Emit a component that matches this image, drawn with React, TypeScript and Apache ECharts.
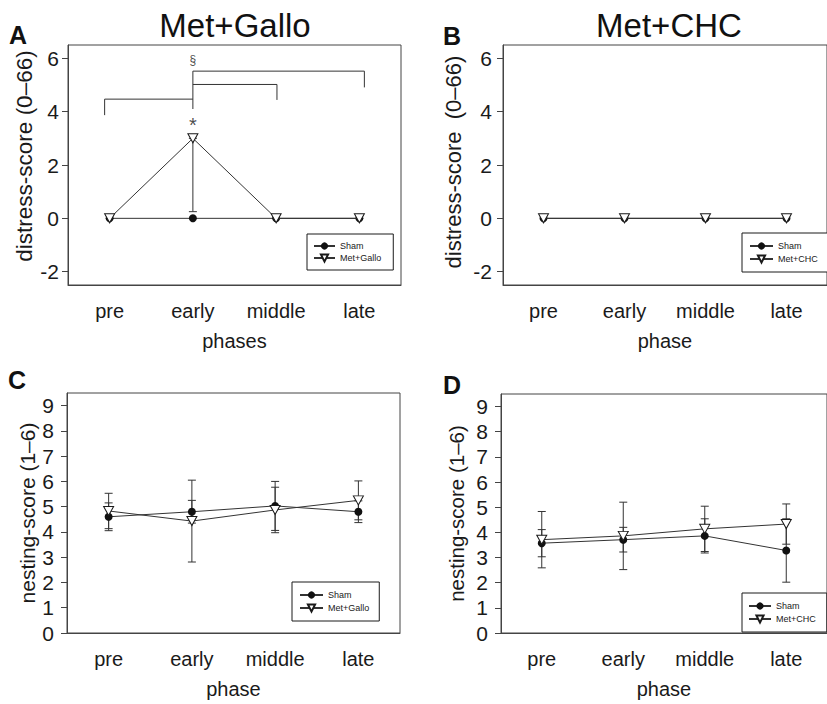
import React, { useEffect, useRef } from "react";
import * as echarts from "echarts";

const phases = ["pre", "early", "middle", "late"];

// Panel A (Met+Gallo distress)
const shamA = [0, 0, 0, 0];
const galloA = [0, 3, 0, 0];
const galloALowerSd = [0, 2.75, 0, 0];

// Panel B (Met+CHC distress)
const shamB = [0, 0, 0, 0];
const chcB = [0, 0, 0, 0];

// Panel C (Met+Gallo nesting)
const shamC = [4.6, 4.8, 5.03, 4.8];
const shamCSd = [0.55, 0.45, 0.97, 0.43];
const galloC = [4.83, 4.43, 4.87, 5.25];
const galloCSd = [0.7, 1.62, 0.9, 0.77];

// Panel D (Met+CHC nesting)
const shamD = [3.57, 3.71, 3.86, 3.28];
const shamDSd = [0.54, 0.49, 0.68, 1.26];
const chcD = [3.71, 3.86, 4.14, 4.33];
const chcDSd = [1.12, 1.34, 0.9, 0.8];

const distressTicks = [-2, 0, 2, 4, 6];
const nestingTicks = [0, 1, 2, 3, 4, 5, 6, 7, 8, 9];

// significance brackets in panel A: [x, y] on a 0..3 phase scale
const bracketPre: number[][] = [[-0.06, 3.87], [-0.06, 4.47], [1, 4.47]];
const bracketEarlyStem: number[][] = [[1, 4.1], [1, 5.52]];
const bracketMiddle: number[][] = [[1, 5.02], [2.01, 5.02], [2.01, 4.44]];
const bracketLate: number[][] = [[1, 5.52], [3.06, 5.52], [3.06, 4.91]];
const starMark = [1, 3.5];
const sectionMark = [1, 5.95];

const FONT = "'Liberation Sans', Arial, sans-serif";
const DARK = "#1a1a1a";
const LINE = "#333";

function errData(mean: number[], lo: number[], hi: number[]) {
  return mean.map((m, i) => [i, m - lo[i], m + hi[i]]);
}

function errorSeries(name: string, idx: number, data: number[][]) {
  return {
    name,
    type: "custom",
    xAxisIndex: idx,
    yAxisIndex: idx,
    z: 2,
    encode: { x: 0, y: [1, 2] },
    data,
    renderItem: (params: any, api: any) => {
      const x = api.value(0);
      const a = api.value(1);
      const b = api.value(2);
      if (a === b) return { type: "group", children: [] };
      const lo = api.coord([x, a]);
      const hi = api.coord([x, b]);
      const cw = 4;
      const st = { stroke: LINE, lineWidth: 1 };
      return {
        type: "group",
        children: [
          { type: "line", shape: { x1: lo[0], y1: lo[1], x2: hi[0], y2: hi[1] }, style: st },
          { type: "line", shape: { x1: lo[0] - cw, y1: lo[1], x2: lo[0] + cw, y2: lo[1] }, style: st },
          { type: "line", shape: { x1: hi[0] - cw, y1: hi[1], x2: hi[0] + cw, y2: hi[1] }, style: st },
        ],
      };
    },
  };
}

function shamSeries(idx: number, data: number[]) {
  return {
    name: "Sham",
    type: "line",
    xAxisIndex: idx,
    yAxisIndex: idx,
    data,
    symbol: "circle",
    symbolSize: 8,
    itemStyle: { color: "#111" },
    lineStyle: { color: LINE, width: 1 },
    z: 3,
  };
}

function triSeries(name: string, idx: number, data: number[]) {
  return {
    name,
    type: "line",
    xAxisIndex: idx,
    yAxisIndex: idx,
    data,
    symbol: "triangle",
    symbolRotate: 180,
    symbolSize: [10, 9],
    itemStyle: { color: "#fff", borderColor: DARK, borderWidth: 1 },
    lineStyle: { color: LINE, width: 1 },
    z: 4,
  };
}

function bracketSeries(name: string, data: number[][]) {
  return {
    name,
    type: "line",
    xAxisIndex: 4,
    yAxisIndex: 0,
    data,
    symbol: "none",
    lineStyle: { color: LINE, width: 1 },
    z: 2,
  };
}

function xAxis(gridIndex: number, name: string) {
  return {
    type: "category",
    gridIndex,
    data: phases,
    boundaryGap: true,
    name,
    nameLocation: "middle",
    nameGap: 46,
    nameTextStyle: { fontSize: 20, color: DARK, fontFamily: FONT },
    axisLine: { onZero: false, lineStyle: { color: "#444", width: 1 } },
    axisTick: { alignWithLabel: true, length: 5, lineStyle: { color: "#444" } },
    axisLabel: { fontSize: 20, color: DARK, margin: 16, fontFamily: FONT },
    splitLine: { show: false },
  };
}

function yAxis(
  gridIndex: number,
  min: number,
  max: number,
  ticks: number[],
  name: string,
  nameGap: number,
  nameSize: number,
  namePad: number[],
  margin: number
) {
  return {
    type: "value",
    gridIndex,
    min,
    max,
    name,
    nameLocation: "middle",
    nameGap,
    nameTextStyle: { fontSize: nameSize, color: DARK, fontFamily: FONT, padding: namePad },
    axisLine: { show: true, onZero: false, lineStyle: { color: "#444", width: 1 } },
    axisTick: { show: true, length: 6, customValues: ticks, lineStyle: { color: "#444" } },
    axisLabel: { fontSize: 21, color: DARK, margin, customValues: ticks, fontFamily: FONT },
    splitLine: { show: false },
  };
}

function legend(data: string[], left: number, top: number, padding: number[], itemWidth: number, itemGap: number) {
  return {
    data,
    left,
    top,
    orient: "vertical",
    padding,
    itemWidth,
    itemHeight: 9,
    itemGap,
    borderColor: DARK,
    borderWidth: 1,
    backgroundColor: "#fff",
    selectedMode: false,
    textStyle: { fontSize: 9, color: DARK, fontFamily: FONT, lineHeight: 10 },
  };
}

export default function App() {
  const ref = useRef<HTMLDivElement>(null);
  useEffect(() => {
    document.body.style.margin = "0";
    const chart = echarts.init(ref.current!, null, { renderer: "svg" });
    const gridBase = { show: true, borderColor: "#444", borderWidth: 1, backgroundColor: "transparent" };
    const option: any = {
      animation: false,
      textStyle: { fontFamily: FONT },
      grid: [
        { ...gridBase, left: 68, top: 45, width: 333, height: 240 },
        { ...gridBase, left: 503, top: 45, width: 334, height: 240 },
        { ...gridBase, left: 67, top: 393, width: 333, height: 240 },
        { ...gridBase, left: 501, top: 394, width: 334, height: 239 },
      ],
      xAxis: [
        xAxis(0, "phases"),
        xAxis(1, "phase"),
        xAxis(2, "phase"),
        xAxis(3, "phase"),
        { type: "value", gridIndex: 0, min: -0.5, max: 3.5, show: false },
      ],
      yAxis: [
        yAxis(0, -2.5, 6.5, distressTicks, "distress-score (0–66)", 22, 22.5, [0, 0, 0, 18], 9),
        yAxis(1, -2.5, 6.5, distressTicks, "distress-score  (0–66)", 39, 22, [0, 0, 0, 6], 11),
        yAxis(2, 0, 9.5, nestingTicks, "nesting-score (1–6)", 22, 21, [0, 0, 0, 0], 13),
        yAxis(3, 0, 9.5, nestingTicks, "nesting-score (1–6)", 34, 20.5, [0, 0, 0, 0], 13),
      ],
      legend: [
        legend(["Sham", "Met+Gallo"], 307, 234, [7, 12, 7, 6], 21, 2),
        legend(["Sham", "Met+CHC"], 742, 233, [8, 12, 8, 7], 23, 3),
        legend(["Sham", "Met+Gallo"], 292, 582, [8, 10, 8, 7], 23, 3),
        legend(["Sham", "Met+CHC"], 742, 593, [8, 11, 8, 6], 22, 3),
      ],
      graphic: [
        { type: "text", x: 235, y: 25, style: { text: "Met+Gallo", fontSize: 33, fontFamily: FONT, fill: "#111", align: "center", verticalAlign: "middle" } },
        { type: "text", x: 669, y: 25, style: { text: "Met+CHC", fontSize: 33, fontFamily: FONT, fill: "#111", align: "center", verticalAlign: "middle" } },
        { type: "text", x: 18, y: 35, style: { text: "A", fontSize: 25, fontWeight: "bold", fontFamily: FONT, fill: "#111", align: "center", verticalAlign: "middle" } },
        { type: "text", x: 452, y: 36, style: { text: "B", fontSize: 25, fontWeight: "bold", fontFamily: FONT, fill: "#111", align: "center", verticalAlign: "middle" } },
        { type: "text", x: 17, y: 380, style: { text: "C", fontSize: 25, fontWeight: "bold", fontFamily: FONT, fill: "#111", align: "center", verticalAlign: "middle" } },
        { type: "text", x: 452, y: 385, style: { text: "D", fontSize: 25, fontWeight: "bold", fontFamily: FONT, fill: "#111", align: "center", verticalAlign: "middle" } },
      ],
      series: [
        // A
        bracketSeries("bPre", bracketPre),
        bracketSeries("bStem", bracketEarlyStem),
        bracketSeries("bMid", bracketMiddle),
        bracketSeries("bLate", bracketLate),
        {
          name: "marks",
          type: "scatter",
          xAxisIndex: 4,
          yAxisIndex: 0,
          symbolSize: 0,
          data: [
            { value: starMark, label: { formatter: "*", fontSize: 20 } },
            { value: sectionMark, label: { formatter: "§", fontSize: 12 } },
          ],
          label: { show: true, position: "inside", color: DARK, fontFamily: FONT },
        },
        errorSeries("errGalloA", 0, errData(galloA, galloALowerSd, [0, 0, 0, 0])),
        shamSeries(0, shamA),
        triSeries("Met+Gallo", 0, galloA),
        // B
        shamSeries(1, shamB),
        triSeries("Met+CHC", 1, chcB),
        // C
        errorSeries("errShamC", 2, errData(shamC, shamCSd, shamCSd)),
        errorSeries("errGalloC", 2, errData(galloC, galloCSd, galloCSd)),
        shamSeries(2, shamC),
        triSeries("Met+Gallo", 2, galloC),
        // D
        errorSeries("errShamD", 3, errData(shamD, shamDSd, shamDSd)),
        errorSeries("errChcD", 3, errData(chcD, chcDSd, chcDSd)),
        shamSeries(3, shamD),
        triSeries("Met+CHC", 3, chcD),
      ],
    };
    chart.setOption(option);
    return () => chart.dispose();
  }, []);
  return <div ref={ref} style={{ position: "absolute", left: 0, top: 0, width: 827, height: 704 }} />;
}
